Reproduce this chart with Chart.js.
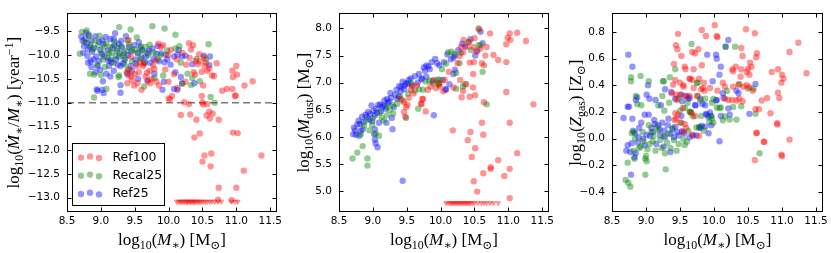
<!DOCTYPE html>
<html><head><meta charset="utf-8">
<script src="https://cdn.jsdelivr.net/npm/chart.js@4/dist/chart.umd.min.js"></script>
<style>
html,body{margin:0;padding:0;background:#fff;width:831px;height:253px;overflow:hidden;position:relative}
canvas{position:absolute;top:0}
</style></head><body>
<canvas id="c1" width="300" height="253" style="left:0px;width:300px;height:253px"></canvas>
<canvas id="c2" width="290" height="253" style="left:280px;width:290px;height:253px"></canvas>
<canvas id="c3" width="276" height="253" style="left:555px;width:276px;height:253px"></canvas>
<script>
// ---------- data ----------
const SERIES = ['Ref100', 'Recal25', 'Ref25'];
const X_TICKS = [8.5, 9.0, 9.5, 10.0, 10.5, 11.0, 11.5];
const SSFR_TICKS = [-13.0, -12.5, -12.0, -11.5, -11.0, -10.5, -10.0, -9.5];
const DUST_TICKS = [5.0, 5.5, 6.0, 6.5, 7.0, 7.5, 8.0];
const ZGAS_TICKS = [-0.4, -0.2, 0.0, 0.2, 0.4, 0.6, 0.8];
const SSFR_THRESHOLD = -11.0;

// Panel 1: specific star formation rate
const ssfrRef100 = [[9.41,-9.68],[9.38,-10.36],[9.41,-10.43],[9.46,-10.53],[9.39,-10.59],[9.49,-10.64],[9.56,-10.36],[9.63,-10.19],[9.68,-10.37],[9.72,-10.33],[9.79,-10.29],[9.69,-10.55],[9.73,-10.59],[9.82,-10.56],[9.86,-10.64],[10.0,-10.56],[9.89,-9.83],[9.81,-10.11],[9.77,-10.21],[9.53,-10.23],[9.54,-10.59],[9.6,-10.73],[10.0,-10.91],[9.44,-10.03],[9.85,-9.76],[9.92,-9.79],[10.03,-9.89],[9.99,-10.0],[10.12,-10.09],[9.58,-10.15],[9.62,-10.23],
[10.30,-9.75],[10.36,-9.79],[10.33,-9.88],[10.31,-10.06],[10.43,-10.19],[10.46,-10.13],[10.53,-10.23],[10.57,-10.33],[10.6,-10.28],[10.49,-10.35],[10.37,-10.36],[10.39,-10.41],[10.64,-10.43],[10.67,-10.44],[10.71,-10.17],[10.51,-10.64],[10.49,-10.86],[10.79,-10.75],[10.86,-10.71],[10.94,-10.71],[10.98,-10.86],[10.94,-10.33],[11.0,-10.23],[10.95,-10.46],[11.01,-10.41],[11.12,-10.64],[11.24,-10.55],[10.25,-10.56],[10.13,-10.69],[10.23,-10.99],[10.3,-11.03],[10.5,-10.99],[10.51,-11.04],[10.57,-11.03],[10.6,-11.19],[10.65,-11.23],[10.4,-10.13],[10.55,-10.16],
[10.38,-11.73],[10.46,-11.65],[10.95,-11.63],[11.02,-11.64],[10.53,-12.11],[10.63,-12.07],[10.5,-12.24],[10.62,-12.34],[11.37,-12.11],[11.11,-12.43],[10.74,-12.79],[11.0,-12.79],[10.73,-13.04],[10.93,-13.05],
[10.18,-11.26],[10.32,-11.25],[10.41,-11.36],[10.56,-11.27],[10.61,-11.33],[10.74,-11.36],[10.02,-10.93],[10.05,-10.86],[10.99,-10.85],
[9.42,-10.3],[9.45,-10.45],[9.5,-10.4],[9.66,-10.45],[9.75,-10.5],[10.2,-9.95],[10.26,-10.2],[10.45,-9.98],[10.52,-10.05],[9.95,-10.3],[10.08,-10.4]];
const ssfrRef100LimitX = [10.12,10.15,10.17,10.19,10.21,10.23,10.25,10.27,10.28,10.30,10.32,10.33,10.35,10.37,10.38,10.40,10.42,10.44,10.46,10.48,10.51,10.54,10.57,10.61,10.64,10.68,10.73,10.78,10.93,10.98,11.02];
const SSFR_LIMIT = -13.08;
const ssfrRecal25 = [[8.72,-9.51],[8.79,-9.48],[9.27,-9.41],[9.44,-9.46],[9.76,-9.39],[9.94,-9.44],[8.98,-9.59],[8.69,-9.97],[9.05,-9.83],[9.14,-9.83],[9.24,-9.86],[9.28,-9.96],[9.39,-9.69],[9.38,-9.91],[9.46,-9.89],[9.53,-9.63],[9.59,-9.81],[9.66,-9.83],[9.64,-10.16],[9.78,-9.95],[9.84,-10.09],[9.03,-10.09],[9.19,-10.16],[8.84,-10.39],[8.9,-10.41],[9.27,-10.43],[9.08,-10.71],[8.9,-10.89],[9.64,-10.66],[9.92,-10.43],[9.46,-10.13],[9.12,-9.96],
[10.1,-9.57],[10.16,-9.81],[10.1,-9.86],[10.41,-10.08],[10.55,-10.09],[10.59,-9.77],[10.28,-10.39],[10.35,-10.48],[10.46,-10.55],[10.33,-10.63],[10.62,-10.88],[10.68,-11.0],[10.18,-10.16],
[9.0,-10.42],[9.26,-10.46],[9.79,-10.48],[10.2,-10.6],[8.85,-9.78],[8.92,-9.7],[9.0,-9.95],[9.1,-10.05],[9.32,-10.0],[9.2,-9.72],[8.95,-10.2],[9.35,-10.2],[9.55,-9.95],[9.7,-10.0],
[8.76,-9.72],[8.83,-9.6],[8.88,-9.88],[8.96,-9.8],[9.08,-9.75],[9.16,-9.95],[9.22,-10.02],[9.3,-9.82],[9.36,-10.06],[9.42,-9.78],[9.5,-9.88],[9.62,-9.92],[9.72,-9.78],[9.88,-10.0],[9.98,-9.9],[9.06,-10.25],[9.4,-10.3],[9.58,-10.08]];
const ssfrRef25 = [[8.71,-9.61],[8.77,-9.66],[8.82,-9.57],[8.86,-9.69],[8.75,-9.81],[8.81,-9.88],[8.74,-9.95],[8.87,-9.93],[8.89,-10.09],[8.81,-10.16],[8.95,-10.23],[8.99,-10.31],[8.92,-10.36],[9.08,-10.39],[9.14,-9.66],[9.2,-9.79],[9.04,-9.77],[8.99,-9.89],[9.05,-10.03],[9.14,-10.09],[9.22,-10.09],[9.27,-10.03],[9.12,-10.23],[9.19,-10.33],[9.29,-10.23],[9.34,-9.95],[9.41,-9.83],[9.49,-9.79],[9.54,-9.96],[9.61,-9.89],[9.69,-9.96],[9.76,-9.86],[9.82,-9.97],[9.89,-9.96],[9.96,-9.99],[9.98,-10.09],[9.86,-10.13],[9.73,-10.16],[9.65,-10.16],[9.51,-10.09],[9.44,-10.23],[9.46,-10.33],[9.39,-10.39],[9.29,-10.63],[9.29,-10.79],[8.95,-10.75],[9.02,-10.73],[9.69,-10.53],[9.91,-10.73],[9.93,-10.56],[9.79,-10.39],[9.19,-9.66],[9.02,-9.69],[9.31,-9.83],[9.56,-9.73],[9.24,-9.91],[8.85,-10.13],[8.93,-10.03],[8.78,-9.53],[9.21,-9.54],[8.94,-10.72],[9.04,-10.8],
[10.08,-10.03],[10.13,-9.99],[10.2,-10.03],[10.25,-10.01],[10.1,-10.36],[10.18,-10.46],[10.2,-10.59],[10.13,-10.73],[10.08,-10.71],[10.35,-10.19],[10.52,-10.01],[10.61,-10.03],[10.6,-10.21],[10.38,-10.59],[10.15,-9.89],
[8.9,-9.85],[9.1,-9.9],[9.16,-10.15],[9.35,-10.1],[9.6,-10.05],[9.3,-9.7],[8.97,-10.12],[9.4,-10.0],[9.02,-9.98],[9.25,-10.2],
[8.73,-9.7],[8.79,-9.75],[8.84,-9.82],[8.8,-10.02],[8.86,-10.25],[8.92,-9.6],[8.97,-9.72],[9.07,-9.62],[9.11,-10.12],[9.17,-9.85],[9.26,-9.76],[9.33,-10.17],[9.37,-9.6],[9.45,-9.92],[9.52,-10.18],[9.58,-9.84],[9.66,-10.04],[9.71,-9.9],[9.78,-10.08],[9.84,-9.81],[9.94,-10.15],[10.03,-10.2],[9.14,-10.45],[9.03,-10.55],[9.55,-10.5]];

// Panel 2: dust mass
const dustRef100 = [[9.46,6.64],[9.49,6.55],[9.46,6.46],[9.48,6.37],[9.51,6.59],[9.53,6.72],[9.56,6.87],[9.58,6.93],[9.73,6.7],[9.71,6.61],[9.78,6.47],[9.81,6.87],[9.85,6.93],[9.93,6.9],[9.98,6.99],[9.41,6.7],
[10.57,7.98],[10.73,7.91],[11.02,7.91],[11.13,7.92],[10.99,7.83],[11.03,7.79],[10.97,7.71],[11.26,7.77],[10.34,7.79],[10.3,7.66],[10.39,7.66],[10.48,7.66],[10.68,7.66],[10.33,7.56],[10.53,7.57],[10.59,7.63],[10.66,7.5],[10.78,7.51],[10.85,7.42],[10.97,7.38],[10.43,7.37],[10.49,7.38],[10.61,7.36],[10.64,7.32],[10.48,7.16],[10.29,7.05],[10.38,6.97],[10.48,6.91],[10.33,6.85],[10.31,6.73],[10.43,6.74],[10.51,6.77],[10.64,6.64],[10.97,6.83],[11.37,6.6],[9.99,6.93],[10.04,6.84],[10.19,6.91],[10.06,7.05],[9.74,6.7],[9.72,6.61],[10.28,7.49],[10.25,7.36],
[10.61,6.26],[11.02,6.26],[10.18,6.12],[10.44,6.09],[10.4,5.94],[10.63,6.04],[10.51,5.79],[10.46,5.63],[10.85,5.57],[11.13,5.7],[10.74,5.41],[10.74,5.44],[10.63,5.33],[11.02,5.41],[10.94,5.28],[10.49,5.18],[10.54,4.99],[11.02,4.87],
[9.6,6.8],[9.65,6.95],[9.9,7.05],[10.12,7.2],[10.42,7.75],[10.5,7.82]];
const dustRef100LimitX = [10.08,10.11,10.14,10.16,10.18,10.2,10.22,10.24,10.26,10.28,10.3,10.32,10.34,10.36,10.38,10.4,10.42,10.44,10.47,10.5,10.55,10.6,10.64,10.68,10.73,10.78,10.85];
const DUST_LIMIT = 4.78;
const dustRecal25 = [[8.7,5.6],[8.77,5.71],[8.85,5.83],[8.92,5.6],[8.92,5.47],[9.09,6.02],[9.04,6.06],[8.87,6.2],[8.99,6.22],[9.13,6.36],[9.21,6.4],[9.3,6.43],[9.29,6.59],[9.36,6.61],[9.44,6.67],[9.49,6.35],[9.56,6.99],[9.68,6.88],[9.67,6.52],[9.78,7.02],[9.83,7.04],[9.97,6.99],[9.98,7.06],[8.82,6.05],
[10.56,8.0],[10.59,7.69],[10.56,7.69],[10.41,7.75],[10.11,7.56],[10.16,7.57],[10.2,7.53],[10.28,7.36],[10.23,7.18],[10.62,7.2],[10.36,6.97],[10.33,6.93],[10.68,6.6],[9.95,7.05],[9.89,6.99],[9.74,6.87],[9.97,6.96],[10.23,6.89],
[8.9,6.3],[9.0,6.35],[9.1,6.45],[9.2,6.55],[9.25,6.5],[9.4,6.75],[9.52,6.8],[9.62,6.85],[10.02,7.25],[10.08,7.35],[10.3,7.55],[10.45,7.6],[8.95,6.12],[9.16,6.3]];
const dustRef25 = [[8.71,6.05],[8.75,6.04],[8.77,6.23],[8.81,6.24],[8.82,6.11],[8.85,6.14],[8.84,6.37],[8.89,6.41],[8.93,6.46],[8.95,6.32],[8.98,6.58],[8.99,6.29],[9.03,6.4],[9.05,6.52],[9.08,6.59],[9.09,6.26],[9.12,6.47],[9.14,6.55],[9.17,6.67],[9.19,6.52],[9.2,6.26],[9.21,6.7],[9.24,6.65],[9.26,6.81],[9.28,6.35],[9.29,6.14],[9.31,6.55],[9.35,6.87],[9.38,6.74],[9.39,6.94],[9.41,6.84],[9.44,7.02],[9.46,6.88],[9.49,6.99],[9.53,7.05],[9.58,6.96],[9.66,7.0],[9.72,7.06],[9.9,6.4],[10.08,6.88],[9.02,6.05],[9.03,5.95],[9.04,5.88],[9.07,5.81],[9.44,5.19],[9.03,6.14],[8.72,6.17],[8.8,6.02],
[10.59,7.94],[10.62,7.73],[10.36,7.67],[10.54,7.59],[10.51,7.5],[10.21,7.5],[10.19,7.46],[10.15,7.43],[10.05,7.38],[9.98,7.32],[9.92,7.44],[9.87,7.38],[9.79,7.32],[9.75,7.28],[9.84,7.25],[9.72,7.08],[9.79,7.11],[9.88,7.03],[10.07,6.87],[10.13,6.97],[10.19,7.16],[10.21,7.24],[10.03,7.05],[9.77,7.22],
[8.74,6.12],[8.79,6.3],[8.86,6.27],[8.91,6.36],[8.96,6.42],[9.01,6.48],[9.06,6.44],[9.11,6.6],[9.16,6.58],[9.22,6.62],[9.27,6.72],[9.33,6.78],[9.36,6.7],[9.42,6.92],[9.47,6.95],[9.52,6.98],[9.56,7.08],[9.62,7.12],[9.68,7.16],[9.82,7.3],[9.95,7.36],[10.1,7.52],[10.26,7.6],[10.32,7.72],[10.44,7.8]];

// Panel 3: gas metallicity
const zgasRef100 = [[9.58,0.52],[9.43,0.44],[9.5,0.42],[9.55,0.4],[9.64,0.45],[9.68,0.44],[9.81,0.37],[9.86,0.36],[9.44,0.33],[9.5,0.33],[9.57,0.32],[9.64,0.32],[9.75,0.32],[9.38,0.34],[9.45,0.29],[9.54,0.23],[9.43,0.19],[9.47,0.18],[9.42,0.14],[9.44,0.15],[9.5,0.12],[9.57,0.11],[9.59,0.08],[9.54,0.05],[9.68,0.03],[9.78,0.02],[9.67,0.19],[9.72,0.17],
[9.82,0.815],[10.01,0.85],[9.88,0.77],[10.04,0.77],[10.05,0.76],[10.47,0.82],[10.6,0.79],[11.24,0.72],[11.11,0.65],[9.77,0.67],[9.72,0.64],[9.52,0.62],[9.82,0.55],[9.57,0.54],[10.4,0.68],[10.42,0.62],[10.63,0.64],[10.62,0.61],[10.53,0.57],[10.55,0.54],[10.32,0.54],[10.27,0.52],[10.28,0.505],[10.4,0.52],[10.5,0.525],[10.48,0.5],[10.52,0.48],[10.39,0.465],[10.85,0.5],[10.94,0.52],[11.0,0.48],[10.99,0.42],[11.02,0.45],[11.36,0.49],[9.7,0.52],[9.65,0.45],[9.78,0.45],[9.85,0.42],[9.94,0.38],[10.05,0.36],[10.13,0.42],[10.16,0.39],[10.28,0.39],[10.36,0.405],[10.43,0.39],[10.48,0.4],[10.52,0.386],[10.57,0.36],[10.7,0.286],[10.78,0.305],[10.94,0.345],[10.96,0.305],[10.37,0.3],[10.33,0.286],[10.27,0.29],[10.42,0.28],[10.61,0.22],[10.66,0.22],[10.83,0.19],[10.93,0.115],[10.63,0.044],[10.73,-0.023],[9.55,0.39],[9.7,0.38],[9.84,0.38],[10.16,0.3],[10.21,0.29],
[10.62,0.04],[10.74,-0.024],[10.6,-0.16],[10.99,-0.12],[11.0,-0.13],[11.11,-0.007],[10.93,0.107],[9.47,0.786],[9.44,0.7],[9.46,0.67],[9.41,0.56],[9.68,0.65],[9.4,0.405]];
const zgasRecal25 = [[8.92,0.47],[9.04,0.43],[9.26,0.43],[9.43,0.52],[9.76,0.42],[8.87,0.26],[8.93,0.25],[9.24,0.32],[9.18,0.25],[9.27,0.21],[9.34,0.27],[9.47,0.3],[9.5,0.21],[9.57,0.23],[9.65,0.2],[9.76,0.32],[9.87,0.3],[9.97,0.27],[10.08,0.23],[9.66,0.2],[9.81,0.17],[9.97,0.15],[8.79,0.04],[8.84,0.0],[8.96,-0.02],[8.92,-0.06],[9.05,-0.04],[9.11,0.02],[9.21,-0.01],[9.14,-0.09],[9.0,-0.13],[8.99,-0.15],[9.01,-0.17],[8.9,-0.07],[8.73,-0.18],[8.83,-0.15],[9.23,-0.07],[9.28,-0.11],[9.36,-0.07],[9.29,-0.23],[8.99,-0.27],[8.7,-0.31],[8.74,-0.33],[8.77,-0.36],[8.82,-0.09],[9.41,-0.01],[9.48,-0.04],[9.55,0.0],[9.45,-0.09],[9.18,0.06],[9.33,0.04],[9.08,0.05],[8.82,0.05],
[9.67,0.71],[10.17,0.69],[9.75,0.417],[10.19,0.358],[10.37,0.41],[10.5,0.376],[10.58,0.376],[9.99,0.298],[9.8,0.286],[9.61,0.267],[9.64,0.203],[10.04,0.234],[10.1,0.234],[10.4,0.243],[10.28,0.238],[10.61,0.186],[10.33,0.143],[10.23,0.143],[10.13,0.138],[9.99,0.12],[9.93,0.124],[9.79,0.09],[9.85,0.06],[9.74,0.084],[9.57,-0.047],[9.6,-0.023],[9.95,0.17],[10.16,0.167],[9.69,0.167],
[10.67,-0.11],[8.78,0.46],[8.78,0.43],[8.85,0.32],[9.25,0.43],[9.35,0.46],[10.31,0.69],
[9.02,-0.08],[9.1,-0.02],[9.16,0.09],[9.26,0.02],[9.31,-0.03],[9.39,0.08],[9.52,0.12],[9.62,0.06],[9.04,0.1],[8.95,0.05]];
const zgasRef25 = [[8.87,0.31],[8.85,0.29],[8.73,0.24],[8.8,0.15],[9.03,0.4],[9.01,0.33],[9.05,0.3],[8.98,0.18],[9.04,0.18],[9.14,0.29],[9.22,0.25],[9.28,0.37],[9.37,0.35],[9.43,0.3],[9.53,0.28],[9.62,0.3],[9.73,0.25],[9.83,0.26],[10.04,0.29],[9.96,0.17],[9.92,0.16],[9.89,0.18],[9.8,0.08],[9.87,0.09],[9.92,0.04],[10.08,-0.02],[9.64,0.01],[9.53,0.055],[9.43,0.09],[9.39,0.07],[9.36,0.036],[9.28,0.01],[9.27,0.06],[9.18,0.1],[9.13,0.11],[9.08,0.08],[9.01,0.03],[8.96,0.0],[8.89,0.01],[8.84,0.04],[8.79,-0.035],[8.73,-0.05],[8.71,-0.09],[8.77,-0.1],[8.85,-0.11],[8.83,-0.14],[8.78,-0.27],[9.26,-0.06],[9.36,-0.1],[9.21,0.024],[9.41,0.01],[9.48,0.024],[8.93,0.12],[9.1,0.05],
[10.21,0.74],[10.17,0.69],[9.9,0.63],[10.03,0.63],[10.04,0.6],[10.1,0.54],[10.08,0.48],[9.98,0.43],[10.61,0.41],[10.33,0.36],[10.36,0.34],[10.13,0.34],[10.14,0.305],[10.03,0.286],[9.87,0.25],[9.8,0.3],[9.72,0.25],[9.64,0.305],[9.6,0.32],[9.52,0.33],[10.21,0.227],[10.23,0.18],[10.1,0.17],[9.94,0.196],[9.88,0.186],[9.96,0.1],[9.82,0.096],[9.78,0.084],[9.69,0.024],[9.74,0.024],[10.52,0.186],[9.52,0.17],[9.56,0.043],
[8.74,0.63],[8.8,0.54],[8.75,0.24],[8.67,0.155],
[8.9,0.08],[9.06,0.02],[9.12,0.14],[9.2,0.07],[9.24,0.12],[9.32,0.1],[9.46,0.05],[8.98,-0.05],[8.88,-0.03],[9.15,-0.04],[9.33,0.15],[8.81,0.06]];

// ---------- styles ----------
const COLORS = {Ref100:'rgba(255,0,0,0.42)', Recal25:'rgba(0,128,0,0.42)', Ref25:'rgba(0,0,255,0.42)'};
const TICK_FONT = {family:'"DejaVu Sans", sans-serif', size:10.5};
const SERIF = '"Liberation Serif", "DejaVu Serif", serif';
const fmt = v => (v < 0 ? '\u2212' : '') + Math.abs(v).toFixed(1);

function dots(label, data, legend) {
  return {label, data, backgroundColor: COLORS[label], borderWidth:0, pointRadius:3.2, pointHoverRadius:3.2, legendEntry: legend};
}
function limits(label, xs, yv) {
  return {label: label + ' limit', data: xs.map(x => [x, yv]), backgroundColor: COLORS[label], borderWidth:0,
    pointStyle:'triangle', rotation:180, pointRadius:3.6, pointHoverRadius:3.6};
}

const framePlugin = {
  id:'frame',
  afterDatasetsDraw(chart) {
    const {ctx, chartArea:a, scales:{x, y}} = chart;
    const L = Math.round(a.left)+0.5, R = Math.round(a.right)-0.5, T = Math.round(a.top)+0.5, B = Math.round(a.bottom)-0.5;
    ctx.save();
    ctx.strokeStyle = '#000'; ctx.lineWidth = 1;
    ctx.strokeRect(L, T, R-L, B-T);
    ctx.beginPath();
    x.ticks.forEach(t => { const p = Math.round(x.getPixelForValue(t.value))+0.5;
      ctx.moveTo(p, B); ctx.lineTo(p, B-4); ctx.moveTo(p, T); ctx.lineTo(p, T+4); });
    y.ticks.forEach(t => { const p = Math.round(y.getPixelForValue(t.value))+0.5;
      ctx.moveTo(L, p); ctx.lineTo(L+4, p); ctx.moveTo(R, p); ctx.lineTo(R-4, p); });
    ctx.stroke();
    ctx.restore();
  }
};

function drawRich(ctx, segs, x, y, rot, size) {
  ctx.save(); ctx.translate(x, y); ctx.rotate(rot);
  const f = s => (s.it ? 'italic ' : '') + ((s.sub || s.sup) ? size*0.7 : size) + 'px ' + SERIF;
  let total = 0;
  segs.forEach(s => { ctx.font = f(s); s.w = ctx.measureText(s.t).width; total += s.w; });
  let cx = -total/2;
  ctx.fillStyle = '#000'; ctx.textBaseline = 'alphabetic'; ctx.textAlign = 'left';
  segs.forEach(s => { ctx.font = f(s); const dy = s.sub ? size*0.22 : (s.sup ? -size*0.38 : 0); ctx.fillText(s.t, cx, dy); cx += s.w; });
  ctx.restore();
}
const titlePlugin = {
  id:'richTitles',
  afterDraw(chart, args, o) {
    const a = chart.chartArea, ctx = chart.ctx;
    drawRich(ctx, o.x, (a.left+a.right)/2, 245, 0, 17);
    drawRich(ctx, o.y, o.yBase, (a.top+a.bottom)/2, -Math.PI/2, 17);
  }
};
const legendPlugin = {
  id:'boxLegend',
  afterDraw(chart, args, o) {
    if (!o.show) return;
    const a = chart.chartArea, ctx = chart.ctx;
    const items = chart.data.datasets.filter(d => d.legendEntry);
    const L = Math.round(a.left)+5.5, B = Math.round(a.bottom)-6.5, W = 92, rowH = 18.2;
    const H = 62, T = B - H;
    ctx.save();
    ctx.fillStyle = '#fff'; ctx.fillRect(L, T, W, H);
    ctx.strokeStyle = '#000'; ctx.lineWidth = 1; ctx.strokeRect(L, T, W, H);
    const jit = [0.6, -0.6, 1.0];
    items.forEach((d, i) => {
      const cy = T + 13.5 + i*rowH;
      [8.5, 17.5, 26.5].forEach((dx, k) => {
        ctx.beginPath(); ctx.fillStyle = d.backgroundColor; ctx.arc(L+dx, cy+jit[k], 3.2, 0, Math.PI*2); ctx.fill();
      });
      ctx.fillStyle = '#000'; ctx.font = '12.5px "DejaVu Sans", sans-serif'; ctx.textBaseline = 'middle';
      ctx.fillText(d.label, L+40, cy+0.5);
    });
    ctx.restore();
  }
};

const X_TITLE = [{t:'log'},{t:'10',sub:1},{t:'('},{t:'M',it:1},{t:'\u2217',sub:1},{t:') [M'},{t:'\u2299',sub:1},{t:']'}];

function panel(id, datasets, yMin, yMax, yTicks, yW, rightPad, yTitle, yBase, showLegend) {
  return new Chart(document.getElementById(id), {
    type:'scatter',
    data:{datasets},
    options:{
      responsive:false, animation:false, events:[],
      layout:{padding:{left:0, right:rightPad, top:3, bottom:0}, autoPadding:false},
      plugins:{legend:{display:false}, tooltip:{enabled:false},
        richTitles:{x:X_TITLE, y:yTitle, yBase}, boxLegend:{show:showLegend}},
      scales:{
        x:{type:'linear', min:8.5, max:11.6,
          grid:{display:false, drawTicks:false}, border:{display:false},
          afterBuildTicks:s => { s.ticks = X_TICKS.map(v => ({value:v})); },
          afterFit:s => { s.height = 41; },
          ticks:{autoSkip:false, maxRotation:0, padding:3, color:'#000', font:TICK_FONT, callback:fmt}},
        y:{type:'linear', min:yMin, max:yMax,
          grid:{display:false, drawTicks:false}, border:{display:false},
          afterBuildTicks:s => { s.ticks = yTicks.map(v => ({value:v})); },
          afterFit:s => { s.width = yW; },
          ticks:{autoSkip:false, padding:7, color:'#000', font:TICK_FONT, callback:fmt}}
      }
    },
    plugins:[framePlugin, titlePlugin, legendPlugin]
  });
}

panel('c1', [
  dots('Ref100', ssfrRef100, true),
  dots('Recal25', ssfrRecal25, true),
  dots('Ref25', ssfrRef25, true),
  limits('Ref100', ssfrRef100LimitX, SSFR_LIMIT),
  {label:'threshold', data:[[8.5, SSFR_THRESHOLD],[11.6, SSFR_THRESHOLD]], showLine:true, pointRadius:0,
   borderColor:'#7a7a7a', borderWidth:1.5, borderDash:[7,4], backgroundColor:'transparent', order:10}
], -13.3, -9.12, SSFR_TICKS, 67, 23,
  [{t:'log'},{t:'10',sub:1},{t:'('},{t:'\u1E40',it:1},{t:'\u2217',sub:1},{t:'/'},{t:'M',it:1},{t:'\u2217',sub:1},{t:') [year'},{t:'\u22121',sup:1},{t:']'}],
  19, true);

panel('c2', [
  dots('Ref100', dustRef100),
  dots('Recal25', dustRecal25),
  dots('Ref25', dustRef25),
  limits('Ref100', dustRef100LimitX, DUST_LIMIT)
], 4.614, 8.28, DUST_TICKS, 59, 21,
  [{t:'log'},{t:'10',sub:1},{t:'('},{t:'M',it:1},{t:'dust',sub:1},{t:') [M'},{t:'\u2299',sub:1},{t:']'}],
  29, false);

panel('c3', [
  dots('Ref100', zgasRef100),
  dots('Recal25', zgasRecal25),
  dots('Ref25', zgasRef25)
], -0.55, 0.94, ZGAS_TICKS, 57, 8,
  [{t:'log'},{t:'10',sub:1},{t:'('},{t:'Z',it:1},{t:'gas',sub:1},{t:') [Z'},{t:'\u2299',sub:1},{t:']'}],
  26, false);
</script>
</body></html>
